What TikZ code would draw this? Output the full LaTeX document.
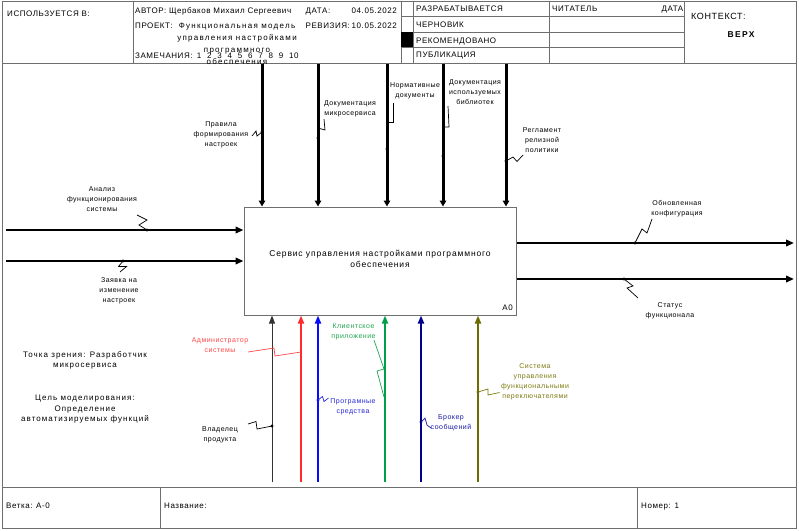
\documentclass[tikz,border=0pt]{standalone}
\usepackage{fontspec}
\setmainfont{Liberation Sans}[LetterSpace=7]
\newfontfamily\wideface{Liberation Sans}[LetterSpace=16]
\newfontfamily\boxface{Liberation Sans}[LetterSpace=10]
\newfontfamily\noteface{Liberation Sans}[LetterSpace=13]
\usetikzlibrary{arrows.meta}

\definecolor{frameC}{HTML}{6E6E6E}
\definecolor{mechRed}{HTML}{FF2B2B}
\definecolor{lblRed}{HTML}{FF4848}
\definecolor{mechBlue}{HTML}{0A0AFF}
\definecolor{lblBlue}{HTML}{2828D8}
\definecolor{mechGreen}{HTML}{00A04A}
\definecolor{lblGreen}{HTML}{1EA54E}
\definecolor{mechNavy}{HTML}{00008C}
\definecolor{lblNavy}{HTML}{1818A0}
\definecolor{mechOlive}{HTML}{6C6C00}
\definecolor{lblOlive}{HTML}{7A7A10}

\newcommand\remgap{\hspace{5.8pt}}

\tikzset{
  frameline/.style={draw=frameC, line width=1pt},
  hdr/.style={font=\fontsize{8}{9}\selectfont, inner sep=0pt, anchor=base west},
  lbl/.style={font=\fontsize{7}{10}\selectfont, align=center, inner sep=0pt},
  note/.style={font=\noteface\fontsize{8}{10.5}\selectfont, align=center, inner sep=0pt},
  ctrl/.style={line width=3pt, -{Triangle[length=6pt,width=6.5pt]}},
  flow/.style={line width=2.6pt, -{Triangle[length=8pt,width=6.5pt]}},
  mech/.style={-{Triangle[length=8pt,width=6pt]}},
  leader/.style={line width=0.7pt},
  dot/.style={circle, fill, inner sep=0pt, minimum size=3.2pt},
}

\begin{document}
\begin{tikzpicture}[x=1pt,y=-1pt]
\useasboundingbox (0,0) rectangle (799,530);

% ---------- form frame and header ----------
\draw[frameline] (2,1) rectangle (796,528);
\draw[frameline] (2,63) -- (796,63);
\draw[frameline] (133,1) -- (133,63);
\draw[frameline] (401,1) -- (401,63);
\draw[frameline] (413,1) -- (413,63);
\draw[frameline] (549,1) -- (549,63);
\draw[frameline] (684,1) -- (684,63);
\foreach \yy in {16.5,32,47} \draw[frameline] (401,\yy) -- (684,\yy);
\fill (401,32) rectangle (413,47);

\node[hdr] (usedin) at (7,16.5) {ИСПОЛЬЗУЕТСЯ В:};
\node[hdr] (author) at (135,13.3) {АВТОР: Щербаков Михаил Сергеевич};
\node[hdr] (date) at (305.5,13.3) {ДАТА:};
\node[hdr, anchor=base east] (dateval) at (397,13.3) {04.05.2022};
\node[hdr] (project) at (135,28.3) {ПРОЕКТ:};
\node[hdr] (revision) at (305.5,28.3) {РЕВИЗИЯ:};
\node[hdr, anchor=base east] (revval) at (397,28.3) {10.05.2022};
\node[hdr] (remarks) at (135,58.3) {ЗАМЕЧАНИЯ: \hspace{1.5pt}1\remgap 2\remgap 3\remgap 4\remgap 5\remgap 6\remgap 7\remgap 8\remgap 9\remgap 10};
\node[font=\wideface\fontsize{8}{12}\selectfont, align=center, inner sep=0pt] (projname) at (237,43.5)
  {Функциональная модель\\управления настройками\\программного\\обеспечения};

\node[hdr] (working) at (416,12) {РАЗРАБАТЫВАЕТСЯ};
\node[hdr] (draft) at (416,27.7) {ЧЕРНОВИК};
\node[hdr] (recommended) at (416,43.3) {РЕКОМЕНДОВАНО};
\node[hdr] (publication) at (416,57.5) {ПУБЛИКАЦИЯ};
\node[hdr] (reader) at (552,12) {ЧИТАТЕЛЬ};
\node[hdr, anchor=base east] (readerdate) at (683.5,12) {ДАТА};
\node[hdr, font=\fontsize{9}{10}\selectfont] (context) at (691,19) {КОНТЕКСТ:};
\node[font=\wideface\bfseries\fontsize{8.5}{9}\selectfont, inner sep=0pt, anchor=base] (top) at (741,37.7) {ВЕРХ};

% ---------- footer ----------
\draw[frameline] (2,487) -- (796,487);
\draw[frameline] (160,487) -- (160,528);
\draw[frameline] (637,487) -- (637,528);
\node[hdr] (branch) at (6,508) {Ветка: А-0};
\node[hdr] (title) at (164,508) {Название:};
\node[hdr] (number) at (641,508) {Номер: 1};

% ---------- viewpoint and purpose ----------
\node[note] (viewpoint) at (85,360.2) {Точка зрения: Разработчик\\микросервиса};
\node[note] (purpose) at (85,409.3) {Цель моделирования:\\Определение\\автоматизируемых функций};

% ---------- activity box ----------
\node[draw=frameC, line width=1pt, minimum width=272pt, minimum height=108pt, inner sep=0pt] (box) at (380,261) {};
\node[font=\boxface\fontsize{8.5}{11.7}\selectfont, align=center, inner sep=0pt] (boxtext) at (380,258.9)
  {Сервис управления настройками программного\\обеспечения};
\node[font=\fontsize{8}{9}\selectfont, inner sep=0pt, anchor=base east] (boxid) at (513,310.5) {A0};

% ---------- controls ----------
\coordinate (c1) at (262,64);
\coordinate (c2) at (318,64);
\coordinate (c3) at (387,64);
\coordinate (c4) at (443,64);
\coordinate (c5) at (506,64);
\foreach \c in {c1,c2,c3,c4,c5} \draw[ctrl] (\c) -- (\c |- box.north);

\node[lbl] (lc1) at (221,135.2) {Правила\\формирования\\настроек};
\node[lbl] (lc2) at (350,109.2) {Документация\\микросервиса};
\node[lbl] (lc3) at (415,91.2) {Нормативные\\документы};
\node[lbl] (lc4) at (475,92.2) {Документация\\используемых\\библиотек};
\node[lbl] (lc5) at (542,140.2) {Регламент\\релизной\\политики};

\node[dot] (dc1) at (262,132) {};
\node[dot] (dc2) at (318,138) {};
\node[dot] (dc3) at (387,149) {};
\node[dot] (dc4) at (443,156) {};
\node[dot] (dc5) at (506,161) {};

\draw[leader] (252,136) -- (256,131) -- (257,136) -- (dc1.center);
\draw[leader] (324,119) -- (325,130) -- (318,128);
\draw[leader] (393,103) -- (393,122) -- (387,122);
\draw[leader] (448,106) -- (449,127) -- (443,127);
\draw[leader] (523,155) -- (517,161.5) -- (513,157) -- (dc5.center);

% ---------- inputs ----------
\coordinate (i1) at (6,230);
\coordinate (i2) at (6,261);
\draw[flow] (i1) -- (i1 -| box.west);
\draw[flow] (i2) -- (i2 -| box.west);

\node[lbl] (li1) at (102,198.7) {Анализ\\функционирования\\системы};
\node[lbl] (li2) at (119,290.7) {Заявка на\\изменение\\настроек};
\node[dot] (di1) at (147,230) {};
\node[dot] (di2) at (123,261) {};
\draw[leader] (137,215) -- (147,220) -- (139,225) -- (di1.center);
\draw[leader] (di2.center) -- (118.5,266.5) -- (126.5,266.5) -- (120,272);

% ---------- outputs ----------
\coordinate (o1) at (794,243);
\coordinate (o2) at (794,279);
\draw[flow] (o1 -| box.east) -- (o1);
\draw[flow] (o2 -| box.east) -- (o2);

\node[lbl] (lo1) at (677,208.2) {Обновленная\\конфигурация};
\node[lbl] (lo2) at (670,311.2) {Статус\\функционала};
\node[dot] (do1) at (635,243) {};
\node[dot] (do2) at (624,279) {};
\draw[leader] (652,219) -- (647,233) -- (642,229) -- (do1.center);
\draw[leader] (do2.center) -- (633,286) -- (627,288) -- (638,298);

% ---------- mechanisms ----------
\coordinate (m1) at (272,482);
\coordinate (m2) at (301,482);
\coordinate (m3) at (318,482);
\coordinate (m4) at (385,482);
\coordinate (m5) at (421,482);
\coordinate (m6) at (478,482);
\draw[mech, line width=0.9pt, black!80] (m1) -- (m1 |- box.south);
\draw[mech, line width=1.8pt, mechRed] (m2) -- (m2 |- box.south);
\draw[mech, line width=1.8pt, mechBlue] (m3) -- (m3 |- box.south);
\draw[mech, line width=1.8pt, mechGreen] (m4) -- (m4 |- box.south);
\draw[mech, line width=2.6pt, mechNavy] (m5) -- (m5 |- box.south);
\draw[mech, line width=2.6pt, mechOlive] (m6) -- (m6 |- box.south);

\node[lbl, text=lblRed] (lm2) at (220,344.7) {Администратор\\системы};
\node[lbl, text=black] (lm1) at (220,435) {Владелец\\продукта};
\node[lbl, text=lblGreen] (lm4) at (353.5,331.5) {Клиентское\\приложение};
\node[lbl, text=lblBlue] (lm3) at (353,406.5) {Програмные\\средства};
\node[lbl, text=lblNavy] (lm5) at (451,422.5) {Брокер\\сообщений};
\node[lbl, text=lblOlive] (lm6) at (535,381.7) {Система\\управления\\функциональными\\переключателями};

\node[dot, black] (dm1) at (272,426) {};
\node[dot, mechBlue] (dm3) at (318,400) {};
\node[dot, mechNavy] (dm5) at (421,422) {};
\node[dot, mechOlive] (dm6) at (478,392) {};

\draw[leader, lblRed] (248,352) -- (274,348) -- (275,356) -- (301,352);
\draw[leader, black] (248,424) -- (256,421.5) -- (257,429) -- (dm1.center);
\draw[leader, lblGreen] (374,340) -- (384,369) -- (377,371) -- (384,397);
\draw[leader, lblBlue] (dm3.center) -- (322.5,396.5) -- (324,401.5) -- (328.5,398);
\draw[leader, lblNavy] (dm5.center) -- (425,418) -- (427,425) -- (431,428);
\draw[leader, lblOlive] (dm6.center) -- (488,389) -- (488,395) -- (499.5,392.5);

\end{tikzpicture}
\end{document}
